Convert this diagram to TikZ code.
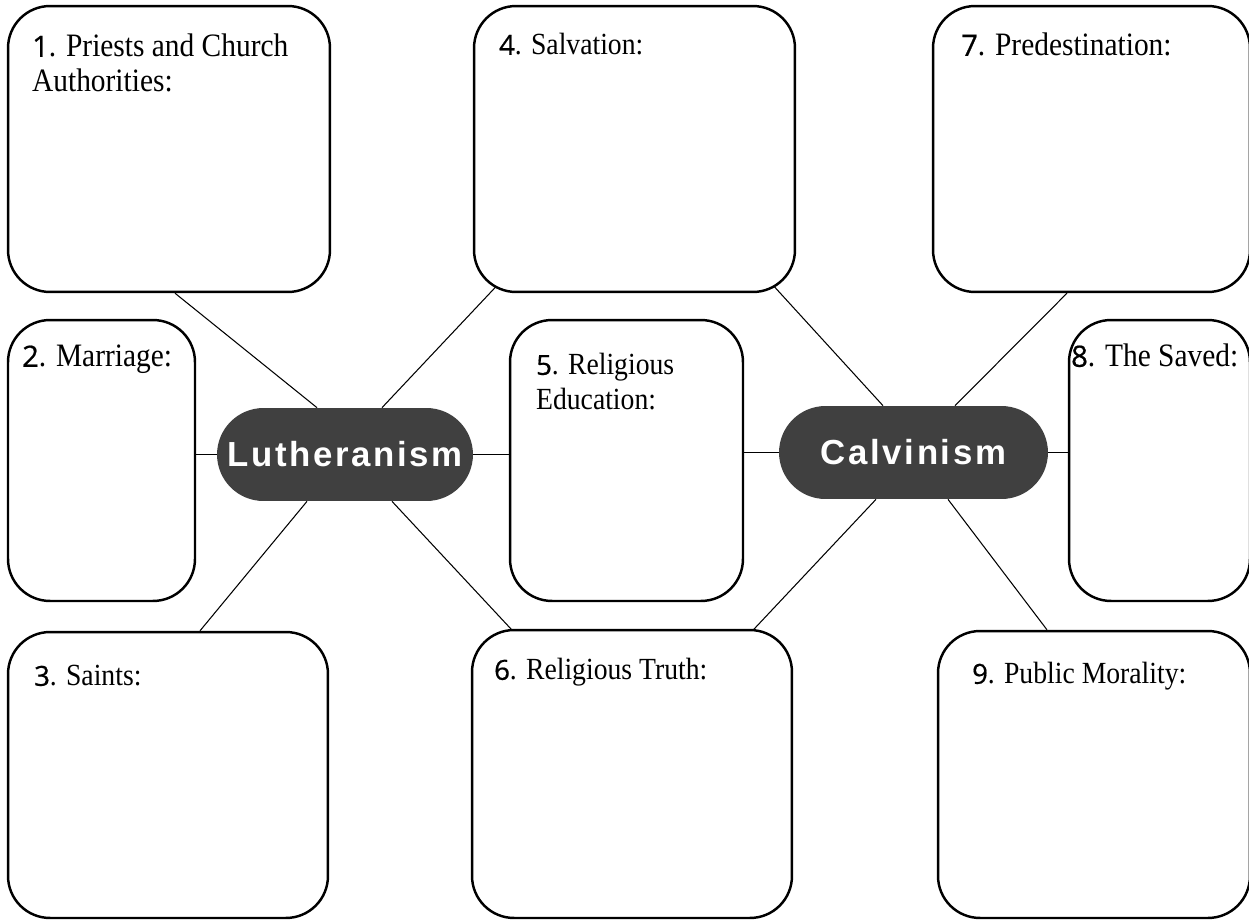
\documentclass[tikz,border=0pt]{standalone}
\usepackage{fontspec}
\setmainfont[FakeStretch=0.9]{Liberation Serif}
\newfontfamily\numfont[Scale=0.9, FakeBold=0.6]{Open Sans}
\newfontfamily\pillfont[LetterSpace=7.5]{Liberation Sans}
\usetikzlibrary{calc}
\usetikzlibrary{backgrounds}
\definecolor{pillgray}{HTML}{404040}
\tikzset{box/.style = {draw, line width = 1.4pt, fill = white, rounded corners = 0.84cm, inner sep = 0}}
\tikzset{pill/.style = {fill = pillgray, rounded corners = 0.93cm, minimum height = 1.86cm, inner sep = 0,
                        text = white, font = \pillfont\bfseries\fontsize{19.8}{24}\selectfont}}
\tikzset{boxtext/.style = {anchor = base west, align = left, inner sep = 0,
                           font = \fontsize{17.5}{19.9}\selectfont}}
\tikzset{bigtext/.style = {boxtext, font = \fontsize{18.6}{19.9}\selectfont}}
\tikzset{link/.style = {line width = 0.6pt}}
\newcommand{\itemno}[1]{{\numfont #1}.}

\begin{document}
\begin{tikzpicture}[x = 0.02cm, y = -0.02cm]
      \useasboundingbox (0, 0) rectangle (1249, 924);
      \clip (0, 0) rectangle (1249, 924);

      \node [box, minimum width = 6.44cm, minimum height = 5.72cm] (b1) at (169, 149) {};
      \node [box, minimum width = 3.74cm, minimum height = 5.62cm] (b2) at (101.5, 460.5) {};
      \node [box, minimum width = 6.4cm, minimum height = 5.72cm] (b3) at (168, 775) {};
      \node [box, minimum width = 6.42cm, minimum height = 5.72cm] (b4) at (634.5, 149) {};
      \node [box, minimum width = 4.66cm, minimum height = 5.62cm] (b5) at (626.5, 460.5) {};
      \node [box, minimum width = 6.4cm, minimum height = 5.76cm] (b6) at (632, 774) {};
      \node [box, minimum width = 6.34cm, minimum height = 5.72cm] (b7) at (1091.5, 149) {};
      \node [box, minimum width = 3.62cm, minimum height = 5.62cm] (b8) at (1159.5, 460.5) {};
      \node [box, minimum width = 6.24cm, minimum height = 5.74cm] (b9) at (1094, 774.5) {};

      \node [pill, minimum width = 5.12cm] (luth) at (345, 454.5) {Lutheranism};
      \node [pill, minimum width = 5.38cm] (calv) at (913.5, 452.5) {Calvinism};

      % two-line texts sit on their last line
      \node [bigtext] (t1) at ($(b1.north west) + (25, 87)$) {\itemno{1} Priests and Church\\Authorities:};
      \node [bigtext] (t2) at ($(b2.north west) + (15, 48)$) {\itemno{2} Marriage:};
      \node [boxtext] (t3) at ($(b3.north west) + (27, 55)$) {\itemno{3} Saints:};
      \node [boxtext] (t4) at ($(b4.north west) + (26, 50)$) {\itemno{4} Salvation:};
      \node [boxtext] (t5) at ($(b5.north west) + (27, 91)$) {\itemno{5} Religious\\Education:};
      \node [boxtext] (t6) at ($(b6.north west) + (23, 51)$) {\itemno{6} Religious Truth:};
      \node [bigtext] (t7) at ($(b7.north west) + (29, 51)$) {\itemno{7} Predestination:};
      \node [bigtext] (t8) at ($(b8.north west) + (3, 48)$) {\itemno{8} The Saved:};
      \node [boxtext] (t9) at ($(b9.north west) + (35, 54)$) {\itemno{9} Public Morality:};

      \begin{scope}[on background layer]
        \draw [link] ($(luth.north) + (-28, 0)$) -- ($(b1.south) + (6, 0)$);
        \draw [link] ($(luth.north) + (37, 0)$) -- ($(b4.south west) + (33, -17)$);
        \draw [link] ($(luth.south) + (-38, 0)$) -- ($(b3.north) + (32, 0)$);
        \draw [link] ($(luth.south) + (47, 0)$) -- ($(b6.north west) + (54, 15)$);
        \draw [link] (luth.west) -- (luth.west -| b2.east);
        \draw [link] (luth.east) -- (luth.east -| b5.west);

        \draw [link] ($(calv.north) + (-30.5, 0)$) -- ($(b4.south east) + (-36, -22)$);
        \draw [link] ($(calv.north) + (41.5, 0)$) -- ($(b7.south) + (-24.5, 0)$);
        \draw [link] ($(calv.south) + (-37.5, 0)$) -- ($(b6.north east) + (-53, 15)$);
        \draw [link] ($(calv.south) + (34.5, 0)$) -- ($(b9.north) + (-47, 0)$);
        \draw [link] (calv.west) -- (calv.west -| b5.east);
        \draw [link] (calv.east) -- (calv.east -| b8.west);
      \end{scope}
    \end{tikzpicture}
\end{document}
